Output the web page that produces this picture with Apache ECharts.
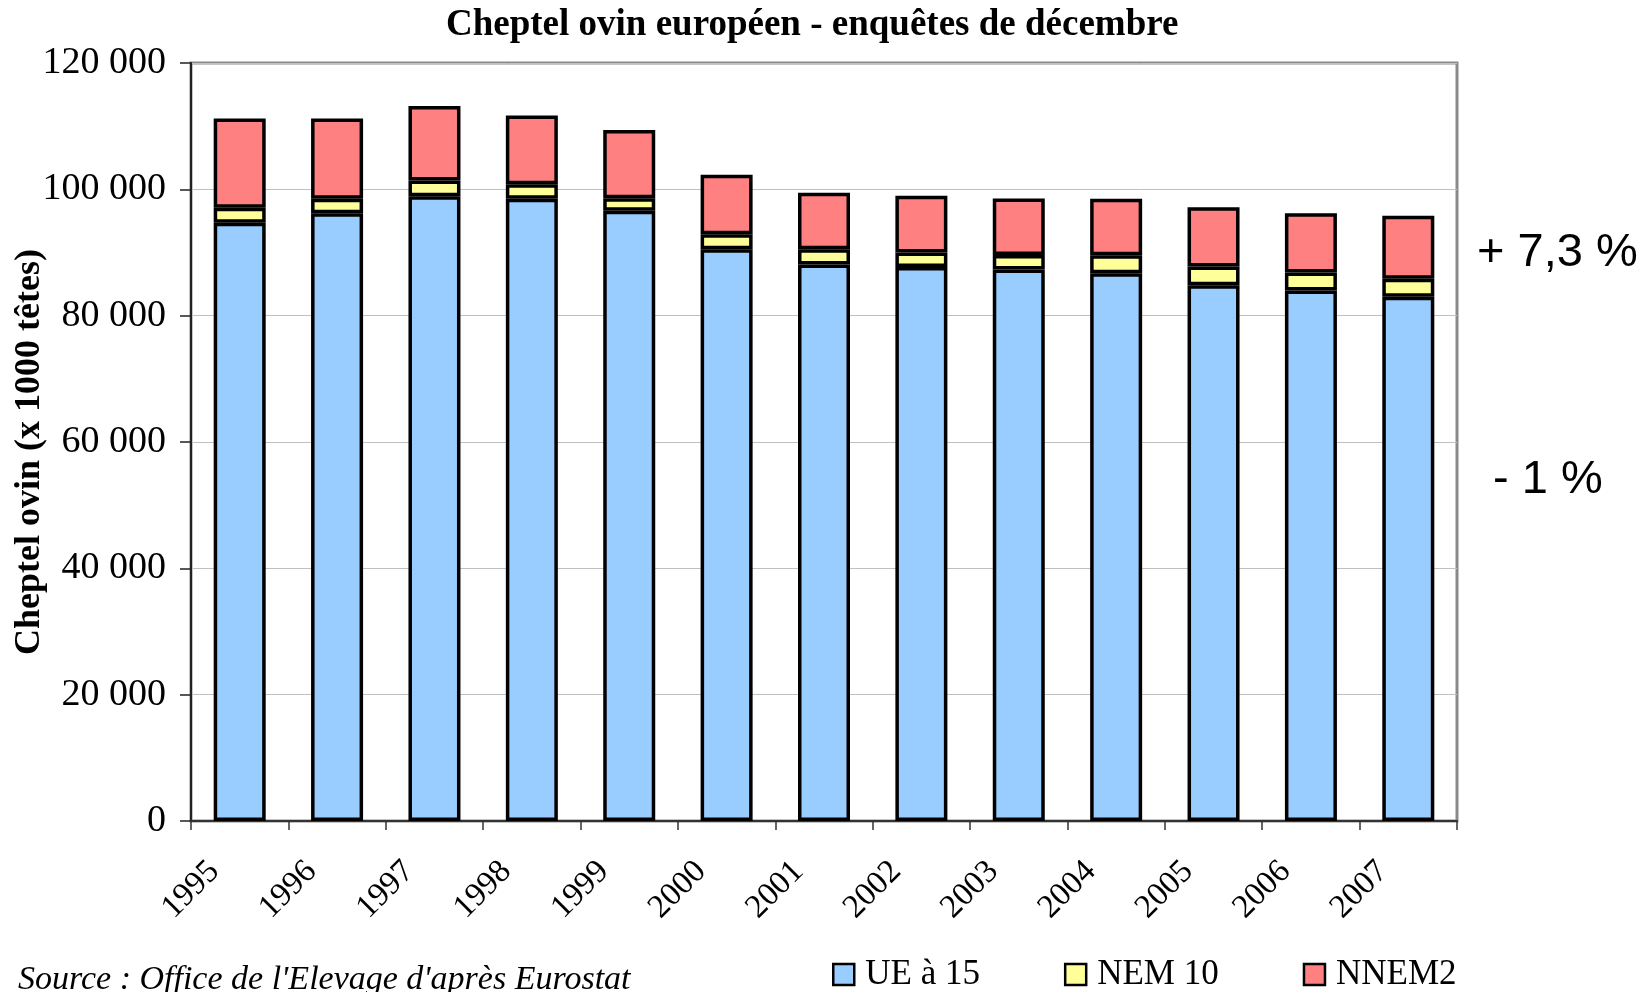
<!DOCTYPE html>
<html>
<head>
<meta charset="utf-8">
<title>Cheptel ovin européen</title>
<script src="https://cdn.jsdelivr.net/npm/echarts@6.0.0/dist/echarts.min.js"></script>
<style>
  html, body { margin: 0; padding: 0; background: #fff; }
  #main { width: 1652px; height: 992px; }
</style>
</head>
<body>
<div id="main"></div>
<script>
// années des enquêtes de décembre
var years = ['1995', '1996', '1997', '1998', '1999', '2000', '2001',
             '2002', '2003', '2004', '2005', '2006', '2007'];

// cheptel en milliers de têtes
var ue15  = [94700, 96200, 98900, 98500, 96600, 90500, 88100, 87700, 87300, 86700, 84800, 84000, 83000];
var nem10 = [2400, 2300, 2500, 2300, 2000, 2400, 2400, 2300, 2300, 2850, 3000, 2850, 2850];
var nnem2 = [14100, 12700, 11800, 10900, 10800, 9400, 8950, 9000, 8950, 8950, 9350, 9350, 9950];

var seriesNames = ['UE à 15', 'NEM 10', 'NNEM2'];
var seriesColors = ['#99ccff', '#ffff99', '#ff8080'];

var serif = '"Liberation Serif", "DejaVu Serif", serif';
var sans = '"Liberation Sans", Arial, sans-serif';

function fmt(v) {
  // 120000 -> "120 000"
  return String(v).replace(/\B(?=(\d{3})+(?!\d))/g, ' ');
}

var myChart = echarts.init(document.getElementById('main'));

var option = {
  animation: false,
  title: {
    text: 'Cheptel ovin européen - enquêtes de décembre',
    left: 446,
    top: 7,
    padding: 0,
    textStyle: { fontFamily: serif, fontSize: 37, fontWeight: 'bold', color: '#000' }
  },
  legend: {
    data: seriesNames,
    left: 827,
    top: 952,
    itemWidth: 21,
    itemHeight: 21,
    itemGap: 84,
    icon: 'rect',
    itemStyle: { borderColor: '#000', borderWidth: 2.5 },
    textStyle: { fontFamily: serif, fontSize: 35, color: '#000', padding: [0, 0, 0, 6] }
  },
  grid: {
    left: 191,
    right: 195,
    top: 63,
    bottom: 171,
    outerBoundsMode: 'none',
    show: true,
    borderColor: '#8a8a8a',
    borderWidth: 3
  },
  xAxis: {
    type: 'category',
    data: years,
    axisLine: { lineStyle: { color: '#333', width: 2 } },
    axisTick: { show: true, length: 9, lineStyle: { color: '#333', width: 1.5 } },
    axisLabel: {
      rotate: 45,
      margin: 20,
      padding: [0, 36, 0, 0],
      fontFamily: serif,
      fontSize: 33,
      color: '#000'
    }
  },
  yAxis: {
    type: 'value',
    min: 0,
    max: 120000,
    interval: 20000,
    name: 'Cheptel ovin (x 1000 têtes)',
    nameLocation: 'middle',
    nameRotate: 90,
    nameGap: 143,
    nameMoveOverlap: false,
    nameTextStyle: { fontFamily: serif, fontSize: 36, fontWeight: 'bold', color: '#000', padding: [0, 20, 0, 0] },
    axisLine: { show: true, lineStyle: { color: '#222', width: 2 } },
    axisTick: { show: true, length: 11, lineStyle: { color: '#222', width: 1.5 } },
    axisLabel: {
      margin: 25,
      fontFamily: serif,
      fontSize: 38,
      color: '#000',
      formatter: fmt
    },
    splitLine: { lineStyle: { color: '#c0c0c0', width: 1 } }
  },
  series: [
    { name: seriesNames[0], type: 'bar', stack: 'total', barWidth: 52, data: ue15,
      itemStyle: { color: seriesColors[0], borderColor: '#000', borderWidth: 3.5 } },
    { name: seriesNames[1], type: 'bar', stack: 'total', barWidth: 52, data: nem10,
      itemStyle: { color: seriesColors[1], borderColor: '#000', borderWidth: 3.5 } },
    { name: seriesNames[2], type: 'bar', stack: 'total', barWidth: 52, data: nnem2,
      itemStyle: { color: seriesColors[2], borderColor: '#000', borderWidth: 3.5 } }
  ],
  graphic: [
    {
      type: 'text', left: 1477, top: 230,
      style: { text: '+ 7,3 %', fontFamily: sans, fontSize: 47, fill: '#000' }
    },
    {
      type: 'text', left: 1493, top: 457,
      style: { text: '- 1 %', fontFamily: sans, fontSize: 47, fill: '#000' }
    },
    {
      type: 'text', left: 18, top: 963,
      style: { text: "Source : Office de l'Elevage d'après Eurostat", fontFamily: serif, fontStyle: 'italic', fontSize: 34, fill: '#000' }
    }
  ]
};

myChart.setOption(option);
</script>
</body>
</html>
